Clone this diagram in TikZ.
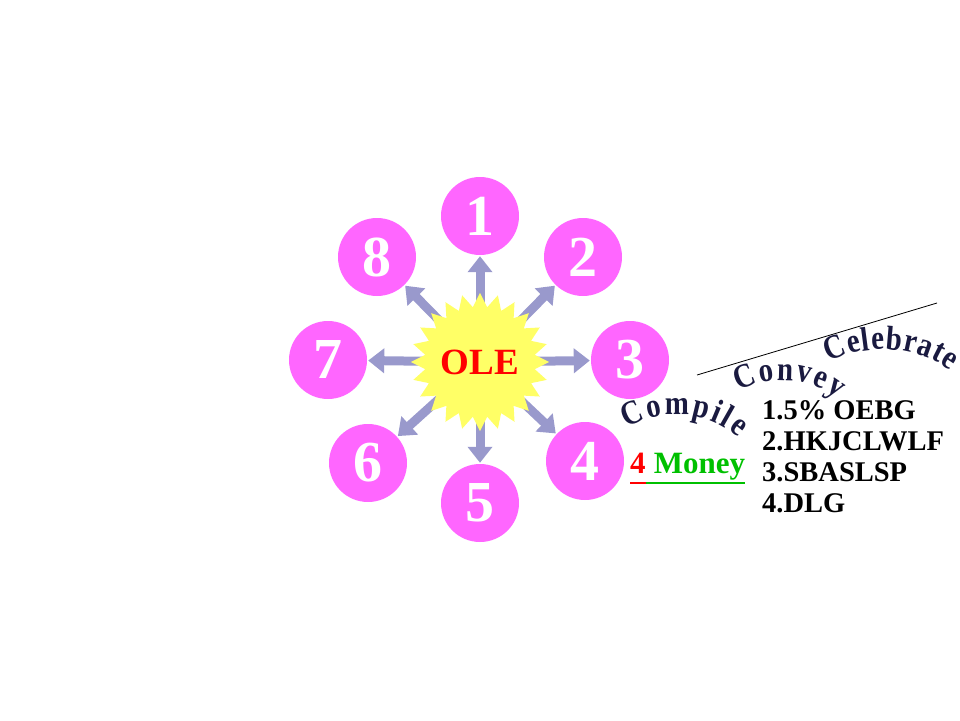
\documentclass[tikz,border=0pt]{standalone}
\usepackage{fontspec}
\setmainfont{Liberation Serif}
\newfontfamily\arcfamily[FakeStretch=0.85]{Liberation Serif}
\usepackage{xcolor}
\usetikzlibrary{shapes.geometric, arrows.meta, positioning, backgrounds, decorations.text}
\definecolor{OrbPink}{HTML}{FF66FF}
\definecolor{SunYellow}{HTML}{FFFF66}
\definecolor{RayLilac}{HTML}{9999CC}
\definecolor{InkNavy}{HTML}{1A1A40}
\definecolor{MoneyRed}{HTML}{FF0000}
\definecolor{MoneyGreen}{HTML}{00C000}
\newcommand{\orbfont}{\fontsize{58}{64}\selectfont\bfseries}
\newcommand{\arcfont}{\arcfamily\fontsize{34}{38}\selectfont\bfseries}
\newcommand{\listfont}{\fontsize{28.5}{31}\selectfont\bfseries}
\newcommand{\moneyfont}{\fontsize{31}{34}\selectfont\bfseries}

\tikzset{
  orb/.style={circle, fill=OrbPink, minimum size=78pt, inner sep=0pt,
              text=white, font=\orbfont},
  burst/.style={star, star points=24, star point ratio=1.25, minimum size=124pt,
                inner sep=0pt, fill=SunYellow, text=MoneyRed,
                font=\fontsize{37}{40}\selectfont\bfseries},
  ray/.style={RayLilac, line width=9pt, -{Triangle[width=24pt,length=16pt]},
              shorten >=1pt},
  arcword/.style={decorate, decoration={text along path, text align=fit to path,
                  text color=InkNavy}},
  moneyword/.style={anchor=base west, inner sep=0pt, font=\moneyfont}
}

\begin{document}
\begin{tikzpicture}[x=1pt,y=-1pt]
    \useasboundingbox (0,0) rectangle (960,720);

    % Central burst
    \node[burst] (ole) at (480,362) {OLE};

    % Ring of numbered orbs
    \node[orb] (c1) at (480,216) {1};
    \node[orb] (c2) at (583,257) {2};
    \node[orb] (c3) at (630,360) {3};
    \node[orb] (c4) at (585,461) {4};
    \node[orb] (c5) at (480,503) {5};
    \node[orb] (c6) at (368,463) {6};
    \node[orb] (c7) at (328,360) {7};
    \node[orb] (c8) at (377,257) {8};

    % Rays behind the burst
    \begin{scope}[on background layer]
        \foreach \k in {1,...,8}
            \draw[ray] (ole.center) -- (c\k);
    \end{scope}

    % Sloped rule
    \coordinate (slashA) at (697,375);
    \coordinate (slashB) at (937,303);
    \draw[black,line width=0.8pt] (slashA) -- (slashB);

    % Curved words
    \path[arcword, decoration={text={|\arcfont|Compile}}]
        (627,428) .. controls (658,410) and (705,408) .. (738,438);
    \path[arcword, decoration={text={|\arcfont|Convey}}]
        (739,391) .. controls (766,376) and (808,375) .. (837,399);
    \path[arcword, decoration={text={|\arcfont|Celebrate}}]
        (829,362) .. controls (864,344) and (915,344) .. (950,371);

    % Money label, underlined in two colours
    \node[moneyword, text=MoneyRed] (money4) at (630,473) {4};
    \node[moneyword, text=MoneyGreen] (moneytxt) at (money4.base east) {\ Money};
    \draw[MoneyRed, line width=2.2pt] ([yshift=-10pt]money4.base west)
        -- ([yshift=-10pt]money4.base east);
    \draw[MoneyGreen, line width=2.2pt] ([yshift=-10pt]moneytxt.base west)
        -- ([yshift=-10pt]moneytxt.base east);

    % Numbered list
    \node[anchor=north west, inner sep=0pt, align=left, font=\listfont] (list)
        at (762,400) {1.5\% OEBG\\2.HKJCLWLF\\3.SBASLSP\\4.DLG};
\end{tikzpicture}
\end{document}
